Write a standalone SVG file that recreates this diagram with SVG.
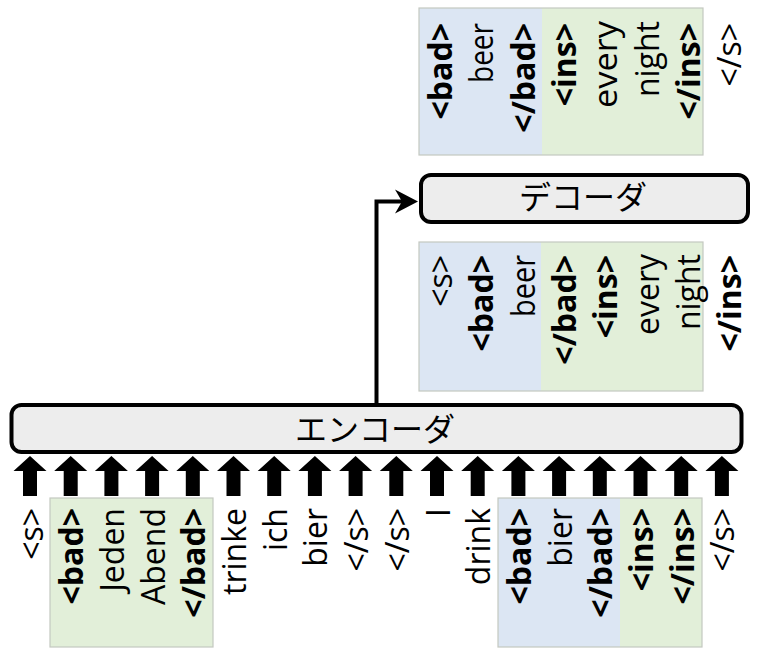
<svg xmlns="http://www.w3.org/2000/svg" xmlns:xlink="http://www.w3.org/1999/xlink" width="768" height="653" viewBox="0 0 768 653">
<style>
.t{font-family:"Open Sans","Noto Sans",sans-serif;font-size:32px;fill:#000;text-anchor:end}
.b{font-weight:bold}
.box{fill:#ededed;stroke:#000;stroke-width:4}
.jp{font-family:"Noto Sans CJK JP",sans-serif;font-size:32px;fill:#000;text-anchor:middle}
.blue{fill:#dce6f3}
.green{fill:#e2efd9}
.frame{fill:none;stroke:#c4c8c0;stroke-width:1.2}
.conn{fill:none;stroke:#000;stroke-width:4}
</style>
<defs>
<marker id="stealth" markerUnits="userSpaceOnUse" viewBox="-24 -13 25 26" refX="-14" refY="0" markerWidth="25" markerHeight="26" orient="auto">
<path d="M0,0 L-23,-12 L-16,0 L-23,12 Z" fill="#000"/>
</marker>
<path id="blk" d="M0,456 L16.5,471 L7,471 L7,496 L-7,496 L-7,471 L-16.5,471 Z" fill="#000"/>
</defs>

<g id="output-panel">
<rect class="blue" x="419" y="8" width="123" height="147"/>
<rect class="green" x="542" y="8" width="161" height="147"/>
<rect class="frame" x="419" y="8" width="284" height="147"/>
<text class="t b" transform="translate(452,23) rotate(-90)">&lt;bad&gt;</text>
<text class="t" transform="translate(493.3,23) rotate(-90)" textLength="60" lengthAdjust="spacingAndGlyphs">beer</text>
<text class="t b" transform="translate(534.6,23) rotate(-90)">&lt;/bad&gt;</text>
<text class="t b" transform="translate(575.9,23) rotate(-90)">&lt;ins&gt;</text>
<text class="t" transform="translate(617.2,21) rotate(-90)" textLength="87" lengthAdjust="spacingAndGlyphs">every</text>
<text class="t" transform="translate(658.5,21) rotate(-90)">night</text>
<text class="t b" transform="translate(699.8,23) rotate(-90)">&lt;/ins&gt;</text>
<text class="t" transform="translate(741.1,23) rotate(-90)">&lt;/s&gt;</text>
</g>

<g id="decoder">
<rect class="box" x="421" y="175" width="327" height="47" rx="10" ry="10"/>
<text class="jp" x="583" y="209">デコーダ</text>
</g>

<g id="decoder-input-panel">
<rect class="blue" x="419" y="242" width="122" height="149"/>
<rect class="green" x="541" y="242" width="162" height="149"/>
<rect class="frame" x="419" y="242" width="284" height="149"/>
<text class="t" transform="translate(452,255) rotate(-90)">&lt;s&gt;</text>
<text class="t b" transform="translate(493.3,255) rotate(-90)">&lt;bad&gt;</text>
<text class="t" transform="translate(534.6,255) rotate(-90)" textLength="62" lengthAdjust="spacingAndGlyphs">beer</text>
<text class="t b" transform="translate(575.9,255) rotate(-90)">&lt;/bad&gt;</text>
<text class="t b" transform="translate(617.2,255) rotate(-90)">&lt;ins&gt;</text>
<text class="t" transform="translate(658.5,254) rotate(-90)">every</text>
<text class="t" transform="translate(699.8,254) rotate(-90)">night</text>
<text class="t b" transform="translate(741.1,255) rotate(-90)">&lt;/ins&gt;</text>
</g>

<g id="encoder">
<rect class="box" x="11.5" y="405" width="730" height="47" rx="10" ry="10"/>
<text class="jp" x="375" y="441">エンコーダ</text>
</g>

<g id="encoder-input-panel">
<rect class="green" x="50" y="498" width="163" height="149"/>
<rect class="frame" x="50" y="498" width="163" height="149"/>
<rect class="blue" x="498" y="498" width="122" height="149"/>
<rect class="green" x="620" y="498" width="82" height="149"/>
<rect class="frame" x="498" y="498" width="204" height="149"/>
<text class="t" transform="translate(42.5,508) rotate(-90)">&lt;s&gt;</text>
<text class="t b" transform="translate(83.2,508) rotate(-90)">&lt;bad&gt;</text>
<text class="t" transform="translate(123.9,508) rotate(-90)">Jeden</text>
<text class="t" transform="translate(164.6,508) rotate(-90)">Abend</text>
<text class="t b" transform="translate(205.3,508) rotate(-90)">&lt;/bad&gt;</text>
<text class="t" transform="translate(246,508) rotate(-90)">trinke</text>
<text class="t" transform="translate(286.7,508) rotate(-90)">ich</text>
<text class="t" transform="translate(327.4,508) rotate(-90)">bier</text>
<text class="t" transform="translate(368.1,508) rotate(-90)">&lt;/s&gt;</text>
<text class="t" transform="translate(408.8,508) rotate(-90)">&lt;/s&gt;</text>
<text class="t" transform="translate(449.5,508) rotate(-90)">I</text>
<text class="t" transform="translate(490.2,508) rotate(-90)">drink</text>
<text class="t b" transform="translate(530.9,508) rotate(-90)">&lt;bad&gt;</text>
<text class="t" transform="translate(571.6,508) rotate(-90)">bier</text>
<text class="t b" transform="translate(612.3,508) rotate(-90)">&lt;/bad&gt;</text>
<text class="t b" transform="translate(653,508) rotate(-90)">&lt;ins&gt;</text>
<text class="t b" transform="translate(693.7,508) rotate(-90)">&lt;/ins&gt;</text>
<text class="t" transform="translate(734.4,508) rotate(-90)">&lt;/s&gt;</text>
</g>

<g id="connectors">
<path class="conn" d="M376.5,405 V201.5 H404" marker-end="url(#stealth)"/>
<use xlink:href="#blk" x="30"/>
<use xlink:href="#blk" x="70.7"/>
<use xlink:href="#blk" x="111.4"/>
<use xlink:href="#blk" x="152.1"/>
<use xlink:href="#blk" x="192.8"/>
<use xlink:href="#blk" x="233.5"/>
<use xlink:href="#blk" x="274.2"/>
<use xlink:href="#blk" x="314.9"/>
<use xlink:href="#blk" x="355.6"/>
<use xlink:href="#blk" x="396.3"/>
<use xlink:href="#blk" x="437"/>
<use xlink:href="#blk" x="477.7"/>
<use xlink:href="#blk" x="518.4"/>
<use xlink:href="#blk" x="559.1"/>
<use xlink:href="#blk" x="599.8"/>
<use xlink:href="#blk" x="640.5"/>
<use xlink:href="#blk" x="681.2"/>
<use xlink:href="#blk" x="721.9"/>
</g>
</svg>
